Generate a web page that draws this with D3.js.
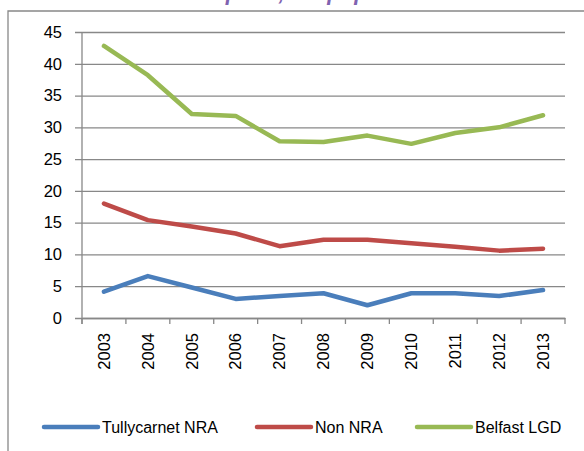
<!DOCTYPE html>
<html>
<head>
<meta charset="utf-8">
<script src="https://cdn.jsdelivr.net/npm/d3@7"></script>
<style>
  html, body { margin: 0; padding: 0; background: #fff; }
  svg { display: block; }
  text { font-family: "Liberation Sans", Arial, sans-serif; }
</style>
</head>
<body>
<svg id="chart" width="584" height="451"></svg>
<script>
const years = ["2003","2004","2005","2006","2007","2008","2009","2010","2011","2012","2013"];
const tullycarnet = [4.15, 6.6, 4.8, 3.0, 3.45, 3.9, 2.0, 3.9, 3.9, 3.45, 4.4];
const nonNRA = [18.0, 15.4, 14.4, 13.3, 11.3, 12.3, 12.3, 11.75, 11.2, 10.6, 10.9];
const belfastLGD = [42.8, 38.2, 32.1, 31.8, 27.8, 27.7, 28.7, 27.4, 29.1, 30.0, 31.9];
const yTicks = [0, 5, 10, 15, 20, 25, 30, 35, 40, 45];
const seriesNames = ["Tullycarnet NRA", "Non NRA", "Belfast LGD"];
const seriesColors = ["#4a7ebb", "#be4b48", "#98b954"];
const titleText = "Rate per 1,000 population";

(function () {
const series = [tullycarnet, nonNRA, belfastLGD].map((values, i) => ({
  name: seriesNames[i], color: seriesColors[i], values
}));

const svg = d3.select("#chart");
const gridColor = "#888888";

// outer chart border (clipped)
svg.append("path")
  .attr("d", "M8,451 V11 H584")
  .attr("fill", "none").attr("stroke", gridColor).attr("stroke-width", 1.3);

// clipped title (only descenders visible, as in the reference)
svg.append("text")
  .attr("x", 172).attr("y", 0)
  .attr("font-size", 22).attr("font-weight", "bold").attr("font-style", "italic")
  .attr("fill", "#7f63b0")
  .text(titleText);

const pLeft = 82, pRight = 565, pTop = 32, pBottom = 318;
const x = d3.scaleBand().domain(years).range([pLeft, pRight]);
const y = d3.scaleLinear().domain([0, 45]).range([pBottom, pTop]);

// y axis with gridlines
const yAxis = d3.axisLeft(y).tickValues(yTicks).tickSizeInner(-(pRight - 75)).tickSizeOuter(0).tickPadding(13);
const gy = svg.append("g").attr("transform", "translate(75,0)").call(yAxis);
gy.select(".domain").remove();
gy.selectAll(".tick line").attr("stroke", gridColor).attr("stroke-width", 1.3);
gy.selectAll(".tick text").attr("font-size", 16.5).attr("fill", "#000")
  .attr("font-family", "Liberation Sans, Arial, sans-serif");

// vertical axis line
svg.append("line").attr("x1", pLeft).attr("x2", pLeft).attr("y1", pTop).attr("y2", pBottom + 6)
  .attr("stroke", gridColor).attr("stroke-width", 1.3);

// x axis
const xAxis = d3.axisBottom(x).tickSize(0).tickPadding(0);
const gx = svg.append("g").attr("transform", `translate(0,${pBottom})`).call(xAxis);
gx.select(".domain").attr("stroke", gridColor).attr("stroke-width", 1.3);
gx.selectAll(".tick line").remove();
gx.selectAll(".tick text")
  .attr("font-size", 16.5).attr("fill", "#000")
  .attr("font-family", "Liberation Sans, Arial, sans-serif")
  .attr("text-anchor", "end")
  .attr("y", 0)
  .attr("dy", "0.35em")
  .attr("transform", "translate(0,15) rotate(-90)");
// category boundary ticks
const boundaries = years.map(d => x(d)).concat([x.range()[1]]);
svg.append("g").selectAll("line").data(boundaries).join("line")
  .attr("x1", d => d).attr("x2", d => d).attr("y1", pBottom).attr("y2", pBottom + 6)
  .attr("stroke", gridColor).attr("stroke-width", 1.3);

// lines
const line = d3.line()
  .x((d, i) => x(years[i]) + x.bandwidth() / 2)
  .y(d => y(d));
svg.append("g").selectAll("path").data(series).join("path")
  .attr("d", d => line(d.values))
  .attr("fill", "none")
  .attr("stroke", d => d.color)
  .attr("stroke-width", 4.5)
  .attr("stroke-linejoin", "round")
  .attr("stroke-linecap", "round");

// legend
const legendX = [44, 257, 417];
const legendY = 427;
const lg = svg.append("g").selectAll("g").data(series).join("g")
  .attr("transform", (d, i) => `translate(${legendX[i]},${legendY})`);
lg.append("line").attr("x1", 0).attr("x2", 54).attr("y1", 0).attr("y2", 0)
  .attr("stroke", d => d.color).attr("stroke-width", 4.5).attr("stroke-linecap", "round");
lg.append("text").attr("x", 58).attr("y", 0).attr("dy", "0.35em")
  .attr("font-size", 16).attr("fill", "#000").text(d => d.name);
})();
</script>
</body>
</html>
